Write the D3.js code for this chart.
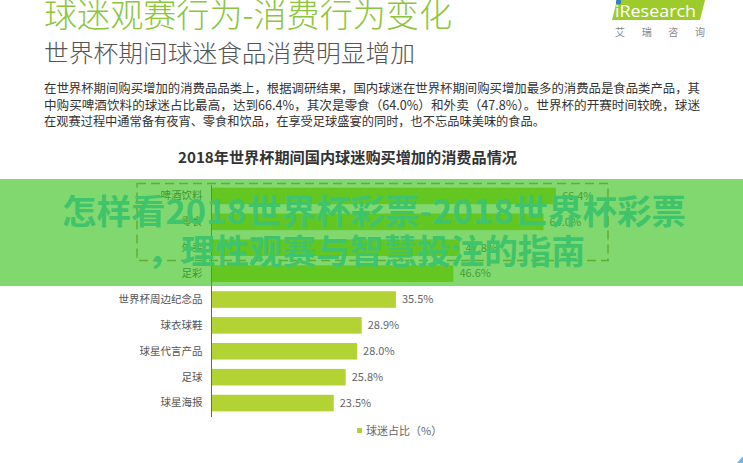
<!DOCTYPE html>
<html>
<head>
<meta charset="utf-8">
<script src="https://cdn.jsdelivr.net/npm/d3@7"></script>
<style>
  html, body { margin: 0; padding: 0; background: #fff; }
  svg { display: block; font-family: "Noto Sans CJK SC", "Noto Sans", sans-serif; }
</style>
</head>
<body>
<div id="chart"></div>
<script>
// ---- data ----
const categories = ["啤酒饮料", "零食", "外卖", "足彩", "世界杯周边纪念品", "球衣球鞋", "球星代言产品", "足球", "球星海报"];
const values = [66.4, 64.0, 47.8, 46.6, 35.5, 28.9, 28.0, 25.8, 23.5];
const seriesName = "球迷占比（%）";
const pageTitle = "球迷观赛行为-消费行为变化";
const pageSubtitle = "世界杯期间球迷食品消费明显增加";
const paragraph = [
  "在世界杯期间购买增加的消费品品类上，根据调研结果，国内球迷在世界杯期间购买增加最多的消费品是食品类产品，其",
  "中购买啤酒饮料的球迷占比最高，达到66.4%，其次是零食（64.0%）和外卖（47.8%）。世界杯的开赛时间较晚，球迷",
  "在观赛过程中通常备有夜宵、零食和饮品，在享受足球盛宴的同时，也不忘品味美味的食品。"
];
const chartTitle = "2018年世界杯期间国内球迷购买增加的消费品情况";
const overlayLines = ["怎样看2018世界杯彩票-2018世界杯彩票", "，理性观赛与智慧投注的指南"];

const W = 743, H = 463;
const svg = d3.select("#chart").append("svg").attr("width", W).attr("height", H);

// ---- header ----
svg.append("text").attr("x", 44).attr("y", 27)
  .attr("font-size", 33).attr("font-weight", 300).attr("fill", "#8cc63f")
  .attr("textLength", 408).attr("lengthAdjust", "spacingAndGlyphs")
  .text(pageTitle);

svg.append("text").attr("x", 44).attr("y", 62)
  .attr("font-size", 24).attr("font-weight", 300).attr("fill", "#555")
  .attr("textLength", 371).attr("lengthAdjust", "spacingAndGlyphs")
  .text(pageSubtitle);

const pLens = [656, 656, 501];
svg.append("g").selectAll("text").data(paragraph).join("text")
  .attr("x", 44).attr("y", (d, i) => 93 + i * 16.7)
  .attr("font-size", 12.5).attr("fill", "#333")
  .attr("textLength", (d, i) => pLens[i]).attr("lengthAdjust", "spacingAndGlyphs")
  .text(d => d);

// logo
const logo = svg.append("g");
logo.append("polygon").attr("points", "617,0 705,0 700,20 612,20").attr("fill", "#9dcb2c");
logo.append("text").attr("x", 615).attr("y", 16.5).attr("font-size", 17)
  .attr("fill", "#fff").attr("textLength", 81).attr("lengthAdjust", "spacingAndGlyphs")
  .attr("font-family", "Open Sans, sans-serif").text("iResearch");
logo.append("circle").attr("cx", 618.5).attr("cy", 2).attr("r", 2.6).attr("fill", "#2a7fd4");
logo.append("text").attr("x", 615).attr("y", 36).attr("font-size", 10)
  .attr("fill", "#888").attr("textLength", 90).attr("lengthAdjust", "spacing")
  .text("艾瑞咨询");

// ---- chart ----
svg.append("text").attr("x", 178).attr("y", 163)
  .attr("font-size", 15).attr("font-weight", "bold").attr("fill", "#333")
  .attr("textLength", 339).attr("lengthAdjust", "spacingAndGlyphs")
  .text(chartTitle);

const x = d3.scaleLinear().domain([0, 70]).range([212, 574.6]);
const y = d3.scaleBand().domain(categories).range([183, 416]).paddingInner(0.36).paddingOuter(0.18);

const data = categories.map((c, i) => ({ c, v: values[i] }));

svg.append("g").selectAll("rect").data(data).join("rect")
  .attr("x", x(0)).attr("y", d => y(d.c))
  .attr("width", d => x(d.v) - x(0)).attr("height", y.bandwidth())
  .attr("fill", "#b3d234");

svg.append("g").selectAll("text").data(data).join("text")
  .attr("x", d => x(d.v) + 6).attr("y", d => y(d.c) + y.bandwidth() / 2)
  .attr("dy", "0.35em").attr("font-size", 11).attr("fill", "#666")
  .text(d => d.v.toFixed(1) + "%");

const yAxis = svg.append("g").attr("transform", "translate(211.5,0)")
  .call(d3.axisLeft(y).tickSize(0).tickPadding(9));
yAxis.select(".domain").attr("stroke", "#666").attr("d", "M0,185V417");
yAxis.selectAll("text").attr("font-size", 10.5).attr("fill", "#555")
  .attr("font-family", "Noto Sans CJK SC, sans-serif");

// highlight dashed box around top categories
svg.append("rect").attr("x", 137).attr("y", 183.5).attr("width", 471).attr("height", 77)
  .attr("fill", "none").attr("stroke", "#a89060").attr("stroke-width", 1.5)
  .attr("stroke-dasharray", "9,5");

// legend
svg.append("rect").attr("x", 357).attr("y", 428).attr("width", 5).attr("height", 5).attr("fill", "#b3d234");
svg.append("text").attr("x", 366).attr("y", 435).attr("font-size", 11).attr("fill", "#666").text(seriesName);

// corner mark
svg.append("polygon").attr("points", "737,463 743,456 743,463").attr("fill", "#6fb6e6");

// ---- overlay banner ----
svg.append("rect").attr("x", 0).attr("y", 179).attr("width", W).attr("height", 107)
  .attr("fill", "rgb(52,192,22)").attr("fill-opacity", 0.62);

const oStarts = [62, 148], oLens = [624, 437], oBase = [224, 264];
svg.append("g").selectAll("text").data(overlayLines).join("text")
  .attr("x", (d, i) => oStarts[i]).attr("y", (d, i) => oBase[i])
  .attr("font-size", 34).attr("font-weight", "bold").attr("fill", "#3fc46c")
  .attr("textLength", (d, i) => oLens[i]).attr("lengthAdjust", "spacingAndGlyphs")
  .text(d => d);
</script>
</body>
</html>
